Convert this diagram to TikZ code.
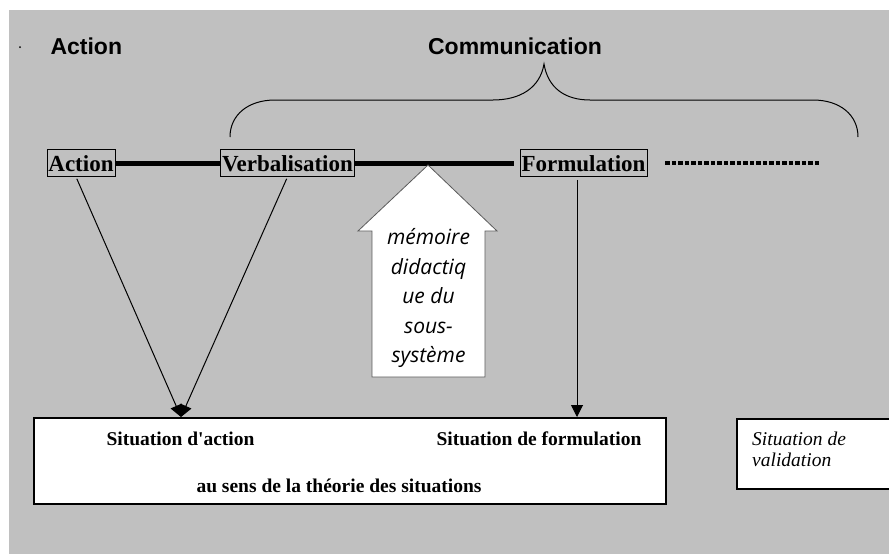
\documentclass[tikz,border=0pt]{standalone}
\usepackage{fontspec}
\setmainfont{Liberation Serif}
\newfontfamily\headfont{Liberation Sans}
\newfontfamily\memfont{Open Sans}
\usetikzlibrary{arrows.meta, positioning, calc}
\definecolor{panelgray}{HTML}{C0C0C0}
\definecolor{arrowedge}{HTML}{5A5A5A}

\begin{document}
\begin{tikzpicture}[x=1pt, y=-1pt,
    stage/.style={rectangle, draw, line width=0.8pt, inner xsep=1.5pt, inner ysep=0pt,
        minimum height=27pt, text height=16pt, text depth=0pt,
        font=\fontsize{23}{27}\selectfont\bfseries},
    heading/.style={anchor=base, font=\headfont\fontsize{23}{27}\selectfont\bfseries},
    thickline/.style={draw, line width=5pt},
    dotline/.style={draw, line width=4.5pt, dash pattern=on 4.5pt off 2pt},
    link/.style={draw, line width=1pt, -{Triangle[length=12pt, width=12pt]}},
    brace/.style={draw, line width=1pt},
    memarrow/.style={draw=arrowedge, fill=white, line width=0.8pt},
    memtext/.style={align=center, font=\memfont\itshape\fontsize{21}{29.5}\selectfont},
    situation/.style={rectangle, draw, line width=1.5pt, fill=white},
    sitlabel/.style={font=\fontsize{19.5}{21}\selectfont\bfseries}
]
\fill[panelgray] (9,10) rectangle (889,554);
\useasboundingbox (0,0) rectangle (889,554);
\fill (20,47) circle (1pt);

\node (ActionHead) [heading, anchor=base west] at (47,54) {Action};
\node (CommHead) [heading] at (515,54) {Communication};

\draw[brace] (230,137) .. controls (230,115) and (248,100) .. (275,100) -- (493,100)
  .. controls (520,100) and (540,88) .. (544,64)
  .. controls (548,88) and (565,100) .. (590,100) -- (813,100)
  .. controls (840,100) and (858,115) .. (858,137);

\node (Action) [stage] at (81,163) {Action};
\node (Verbalisation) [stage] at (287.5,163) {Verbalisation};
\node (Formulation) [stage] at (583.5,163) {Formulation};
\coordinate (DotsEnd) at (819,163);

\draw[thickline] (Action) -- (Verbalisation);
\draw[thickline, shorten >=6pt] (Verbalisation) -- (Formulation);
\draw[dotline, shorten <=18pt] (Formulation) -- (DotsEnd);

\draw[memarrow] (428,165) -- (497,231) -- (485,231) -- (485,377) -- (372,377)
  -- (372,231) -- (358,231) -- cycle;
\node (Memoire) [memtext] at (428.5,298) {mémoire\\didactiq\\ue du\\sous-\\système};

\node (Situations) [situation, minimum width=632pt, minimum height=86pt] at (350,461) {};
\node (SitAction) [sitlabel] at (180.5,439) {Situation d\textquotesingle action};
\node (SitFormulation) [sitlabel] at (539,439) {Situation de formulation};
\node (SensTheorie) [sitlabel] at (339,486) {au sens de la théorie des situations};

\node (Validation) [situation, minimum width=160pt, minimum height=70pt, anchor=north west] at (736,418) {};
\node (ValText) [anchor=north west, align=left, inner sep=0pt,
  font=\fontsize{19.5}{21}\selectfont\itshape] at (752,432) {Situation de\\validation};

\coordinate (ActionMeet) at (181,417);
\coordinate (FormMeet) at (577,417);
\draw[link, shorten <=2pt] ([xshift=-5pt]Action.south) -- (ActionMeet);
\draw[link, shorten <=2pt] (Verbalisation.south) -- (ActionMeet);
\draw[link, shorten <=3pt] ([xshift=-6.5pt]Formulation.south) -- (FormMeet);

\end{tikzpicture}
\end{document}
